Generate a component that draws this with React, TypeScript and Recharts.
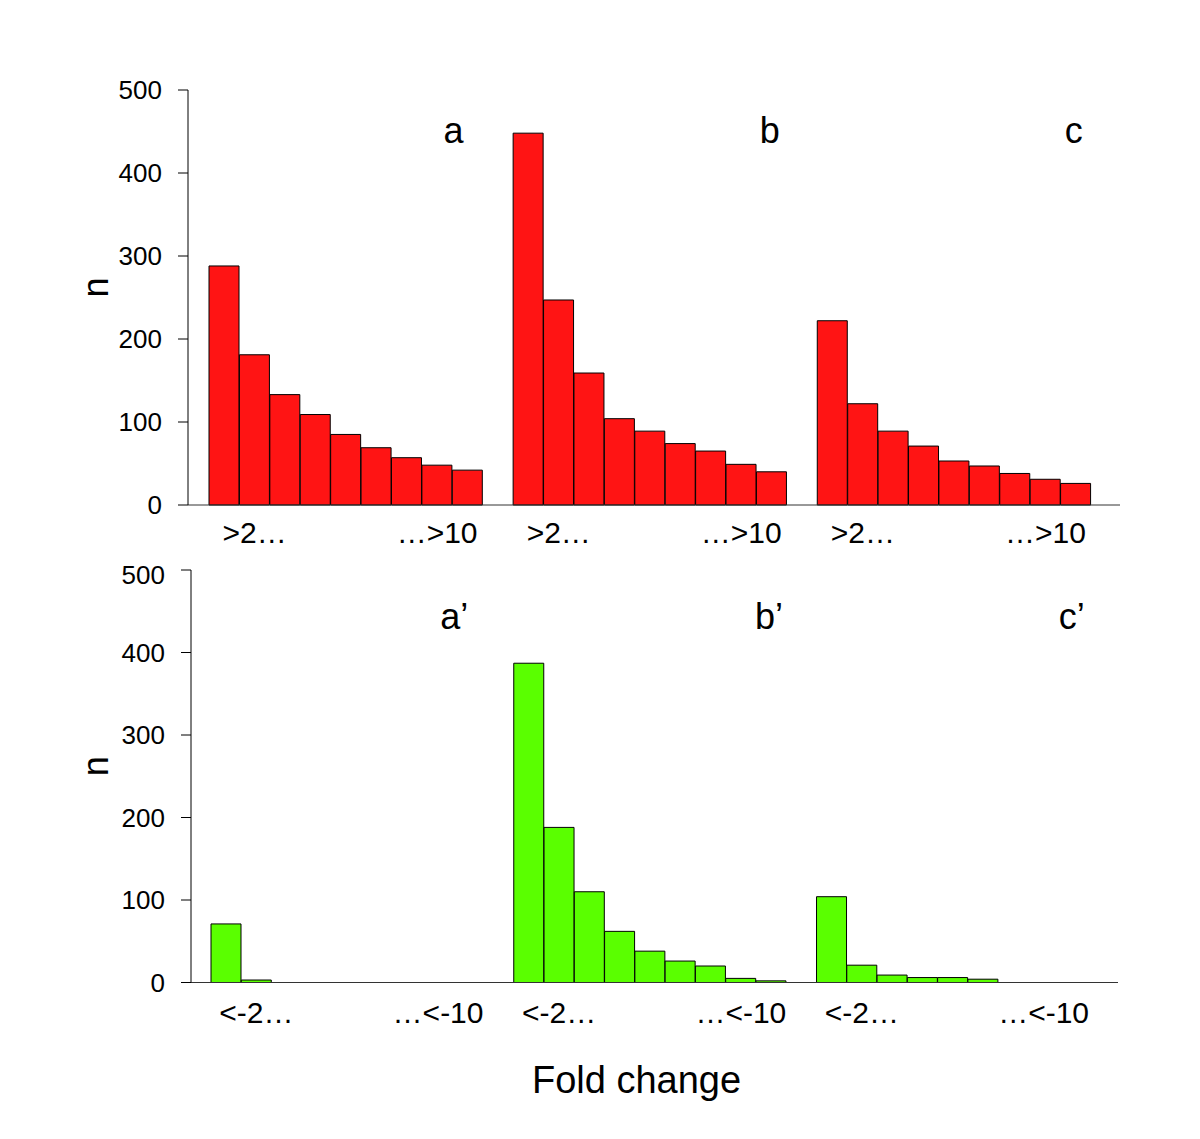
import { BarChart, Bar, XAxis, YAxis, ReferenceDot } from "recharts";

// counts per fold-change bin
const upA = [288, 181, 133, 109, 85, 69, 57, 48, 42];
const upB = [448, 247, 159, 104, 89, 74, 65, 49, 40];
const upC = [222, 122, 89, 71, 53, 47, 38, 31, 26];
const downA = [71, 3, 0, 0, 0, 0, 0, 0, 0];
const downB = [387, 188, 110, 62, 38, 26, 20, 5, 2];
const downC = [104, 21, 9, 6, 6, 4, 0, 0, 0];

const groups = ["a", "b", "c"];
const yTicks = [0, 100, 200, 300, 400, 500];
const tickKeys = ["a2", "a8", "b2", "b8", "c2", "c8"];
const upLabels = [">2…", "…>10"];
const downLabels = ["<-2…", "…<-10"];
const upLetters = ["a", "b", "c"];
const downLetters = ["a’", "b’", "c’"];

function buildRows(sets: number[][]) {
  const rows: { key: string; n: number | null }[] = [];
  sets.forEach((vals, gi) => {
    vals.forEach((v, i) => rows.push({ key: `${groups[gi]}${i + 1}`, n: v }));
    if (gi < sets.length - 1) rows.push({ key: `gap${gi}`, n: null });
  });
  return rows;
}

const upRows = buildRows([upA, upB, upC]);
const downRows = buildRows([downA, downB, downC]);

const yTickStyle = { fontSize: 26, fill: "#000" };
const xTickStyle = { fontSize: 30, fill: "#000" };

function Panel({ rows, fill, labels, letters, letterY, height, margin, yWidth, xHeight, padding, xMargin, bottomLabel }: any) {
  return (
    <BarChart width={1200} height={height} data={rows} margin={margin} barCategoryGap={0} barGap={0}>
      <XAxis
        dataKey="key"
        type="category"
        ticks={tickKeys}
        interval={0}
        tickFormatter={(k: string) => (k.endsWith("2") ? labels[0] : labels[1])}
        tickLine={false}
        tickSize={0}
        tickMargin={xMargin}
        tick={xTickStyle}
        axisLine={{ stroke: "#333" }}
        padding={padding}
        height={xHeight}
        label={bottomLabel ? { value: "Fold change", position: "insideBottom", offset: 10, dx: -18, fontSize: 38, fill: "#000" } : undefined}
      />
      <YAxis
        domain={[0, 500]}
        ticks={yTicks}
        width={yWidth}
        tickSize={10}
        tickMargin={16}
        tick={yTickStyle}
        axisLine={{ stroke: "#000" }}
        tickLine={{ stroke: "#000" }}
        label={{ value: "n", angle: -90, position: "insideLeft", offset: 95, fontSize: 36, fill: "#000" }}
      />
      <Bar dataKey="n" fill={fill} stroke="#000" strokeWidth={1} isAnimationActive={false} />
      {groups.map((g, i) => (
        <ReferenceDot
          key={g}
          x={`${g}9`}
          y={letterY}
          r={0}
          stroke="none"
          ifOverflow="visible"
          label={{ value: letters[i], position: "center", fontSize: 36, fill: "#000", dx: i === 0 ? -14 : -2 }}
        />
      ))}
    </BarChart>
  );
}

export default function App() {
  return (
    <div style={{ width: 1200, height: 1139, fontFamily: "'Liberation Sans', Arial, Helvetica, sans-serif", background: "#fff" }}>
      <style>{"body{margin:0}"}</style>
      <Panel
        rows={upRows}
        fill="#ff1414"
        labels={upLabels}
        letters={upLetters}
        letterY={452}
        height={560}
        margin={{ top: 90, right: 80, bottom: 0, left: 0 }}
        yWidth={188}
        xHeight={55}
        padding={{ left: 21, right: 29 }}
        xMargin={17}
      />
      <Panel
        rows={downRows}
        fill="#5aff00"
        labels={downLabels}
        letters={downLetters}
        letterY={444}
        height={579}
        margin={{ top: 10, right: 82, bottom: 36.5, left: 0 }}
        yWidth={191}
        xHeight={120}
        padding={{ left: 20, right: 29 }}
        xMargin={19}
        bottomLabel
      />
    </div>
  );
}
